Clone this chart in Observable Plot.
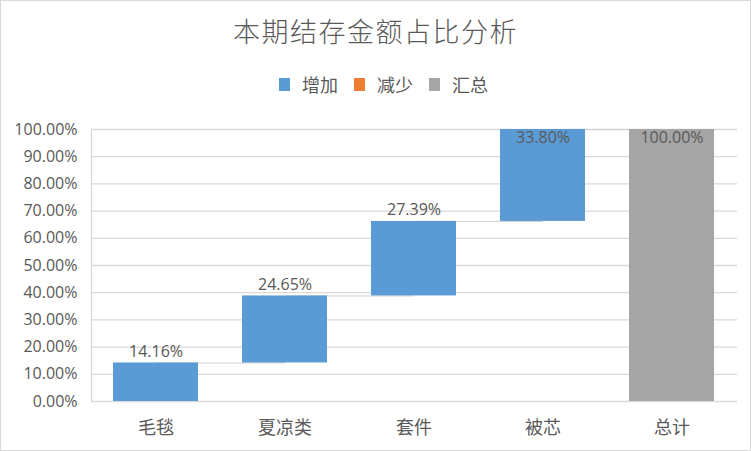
<!DOCTYPE html>
<html>
<head>
<meta charset="utf-8">
<script src="https://cdn.jsdelivr.net/npm/d3@7"></script>
<script src="https://cdn.jsdelivr.net/npm/@observablehq/plot@0.6"></script>
<style>
  html, body { margin: 0; padding: 0; background: #fff; }
  #chart { position: relative; width: 751px; height: 451px; overflow: hidden; background: #fff; }
  #border { position: absolute; left: 0; top: 0; width: 751px; height: 451px; box-sizing: border-box; border: 1px solid #d9d9d9; pointer-events: none; }
  #title { position: absolute; left: 0; top: 17px; width: 751px; text-align: center; font-family: "Noto Sans CJK SC", sans-serif; font-weight: 300; font-size: 27px; line-height: 28px; letter-spacing: 1.5px; color: #595959; }
  #legend { position: absolute; left: 8px; top: 72px; width: 751px; height: 24px; display: flex; justify-content: center; align-items: center; font-family: "Noto Sans CJK SC", sans-serif; font-size: 18px; color: #595959; }
  .item { display: flex; align-items: center; margin-right: 16px; }
  .item:last-child { margin-right: 0; }
  .sw { width: 11px; height: 13px; margin-right: 12px; }
  #plot { position: absolute; left: 0; top: 100px; }
</style>
</head>
<body>
<div id="chart">
  <div id="title"></div>
  <div id="legend"></div>
  <div id="plot"></div>
  <div id="border"></div>
</div>
<script>
const titleText = "本期结存金额占比分析";
const categories = ["毛毯", "夏凉类", "套件", "被芯", "总计"];
const values = [0.1416, 0.2465, 0.2739, 0.3380, 1.0000];
const types = ["增加", "增加", "增加", "增加", "汇总"];
const legendNames = ["增加", "减少", "汇总"];
const legendColors = ["#5b9bd5", "#ed7d31", "#a5a5a5"];
const yTicks = [0, 0.1, 0.2, 0.3, 0.4, 0.5, 0.6, 0.7, 0.8, 0.9, 1.0];

document.getElementById("title").textContent = titleText;
const legend = document.getElementById("legend");
legendNames.forEach((n, i) => {
  const it = document.createElement("div");
  it.className = "item";
  const sw = document.createElement("div");
  sw.className = "sw";
  sw.style.background = legendColors[i];
  const t = document.createElement("span");
  t.textContent = n;
  it.appendChild(sw); it.appendChild(t);
  legend.appendChild(it);
});

// waterfall table
let running = 0;
const data = categories.map((c, i) => {
  let start, end;
  if (types[i] === "汇总") { start = 0; end = values[i]; running = values[i]; }
  else { start = running; end = running + values[i]; running = end; }
  return { cat: c, start, end, value: values[i], type: types[i] };
});
const links = data.slice(0, -1).map((d, i) => ({ a: d.cat, b: data[i + 1].cat, v: d.end }));
const fmt = d3.format(".2%");

const plot = Plot.plot({
  width: 751,
  height: 351,
  marginLeft: 91,
  marginRight: 14,
  marginTop: 29,
  marginBottom: 50,
  style: { fontFamily: "'Open Sans', 'Noto Sans CJK SC', sans-serif", fontSize: "16px", color: "#595959", background: "transparent" },
  x: { domain: categories, paddingInner: 0.34, paddingOuter: 0.17, label: null },
  y: { domain: [0, 1], label: null },
  color: { domain: legendNames, range: legendColors },
  marks: [
    Plot.ruleY(yTicks, { stroke: "#d9d9d9", strokeWidth: 1.3 }),
    Plot.frame({ anchor: "left", stroke: "#d9d9d9", strokeWidth: 1.3 }),
    Plot.link(links, { x1: "a", x2: "b", y1: "v", y2: "v", stroke: "#cfcfcf", strokeWidth: 1 }),
    Plot.barY(data, { x: "cat", y1: "start", y2: "end", fill: "type" }),
    Plot.text(data.filter(d => d.end < 0.95), { x: "cat", y: "end", text: d => fmt(d.value), lineAnchor: "bottom", dy: -6, fill: "#595959", fontSize: 16 }),
    Plot.text(data.filter(d => d.end >= 0.95), { x: "cat", y: "end", text: d => fmt(d.value), lineAnchor: "top", dy: 2, fill: "#595959", fontSize: 16 }),
    Plot.axisY({ ticks: yTicks, tickFormat: fmt, tickSize: 0, tickPadding: 14, fontSize: 16, fill: "#595959", label: null }),
    Plot.axisX({ tickSize: 0, tickPadding: 20, fontSize: 18, fontFamily: "'Noto Sans CJK SC', sans-serif", fill: "#595959", label: null })
  ]
});
document.getElementById("plot").appendChild(plot);
</script>
</body>
</html>
